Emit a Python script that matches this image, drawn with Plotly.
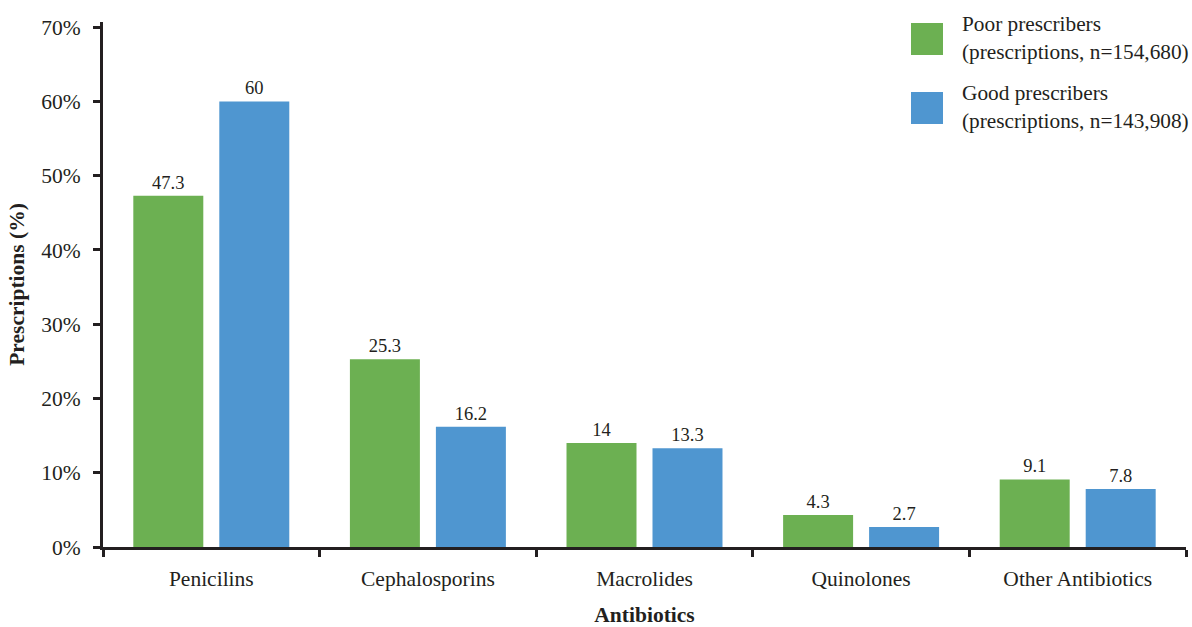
import plotly.graph_objects as go

categories = ["Penicilins", "Cephalosporins", "Macrolides", "Quinolones", "Other Antibiotics"]
poor_values = [47.3, 25.3, 14, 4.3, 9.1]
good_values = [60, 16.2, 13.3, 2.7, 7.8]
poor_labels = ["47.3", "25.3", "14", "4.3", "9.1"]
good_labels = ["60", "16.2", "13.3", "2.7", "7.8"]
series_names = ["Poor prescribers<br>(prescriptions, n=154,680)",
                "Good prescribers<br>(prescriptions, n=143,908)"]
y_ticks = [0, 10, 20, 30, 40, 50, 60, 70]
y_tick_text = ["0%", "10%", "20%", "30%", "40%", "50%", "60%", "70%"]

GREEN = "#6CB052"
BLUE = "#4F96D0"
INK = "#231F20"
FONT = "Liberation Serif"
TICK_SIZE = 21.5

fig = go.Figure()
fig.add_trace(go.Bar(x=categories, y=poor_values, name=series_names[0],
                     marker=dict(color=GREEN, line=dict(width=0)),
                     text=poor_labels, textposition="outside",
                     textfont=dict(family=FONT, size=18.5, color=INK), cliponaxis=False))
fig.add_trace(go.Bar(x=categories, y=good_values, name=series_names[1],
                     marker=dict(color=BLUE, line=dict(width=0)),
                     text=good_labels, textposition="outside",
                     textfont=dict(family=FONT, size=18.5, color=INK), cliponaxis=False))

fig.update_layout(
    width=1192, height=627,
    margin=dict(l=103, r=6, t=22, b=80),
    paper_bgcolor="white", plot_bgcolor="white",
    barmode="group", bargap=0.206, bargroupgap=0.186,
    showlegend=False,
    font=dict(family=FONT, size=TICK_SIZE, color=INK),
)
fig.update_xaxes(
    automargin=False,
    showline=True, linecolor=INK, linewidth=3,
    ticks="outside", tickson="boundaries", ticklen=7, tickwidth=3, tickcolor=INK,
    tickfont=dict(family=FONT, size=TICK_SIZE, color=INK), ticklabelstandoff=10,
    title=dict(text="<b>Antibiotics</b>", font=dict(family=FONT, size=TICK_SIZE, color=INK), standoff=22),
    showgrid=False, zeroline=False,
)
fig.update_yaxes(
    automargin=False,
    range=[0, 70.7], tickvals=y_ticks, ticktext=y_tick_text,
    showline=True, linecolor=INK, linewidth=3,
    ticks="outside", ticklen=7, tickwidth=3, tickcolor=INK,
    tickfont=dict(family=FONT, size=TICK_SIZE, color=INK), ticklabelstandoff=8,
    title=dict(text="<b>Prescriptions (%)</b>", font=dict(family=FONT, size=TICK_SIZE, color=INK), standoff=11),
    showgrid=False, zeroline=False,
)

# Manual legend (large square swatches), positions expressed relative to the plot area
legend_colors = [GREEN, BLUE]
legend_tops = [23, 92]
for name, col, top in zip(series_names, legend_colors, legend_tops):
    fig.add_shape(type="rect", xref="paper", yref="paper",
                  x0=(911 - 103) / 1083, x1=(943 - 103) / 1083,
                  y0=(547 - (top + 32)) / 525, y1=(547 - top) / 525,
                  fillcolor=col, line=dict(width=0))
    fig.add_annotation(xref="paper", yref="paper",
                       x=(960 - 103) / 1083, y=(547 - (top + 15)) / 525,
                       xanchor="left", yanchor="middle", align="left",
                       text=name, showarrow=False,
                       font=dict(family=FONT, size=21.3, color=INK))

fig.write_html("out.html", config={"displayModeBar": False},
               post_script="document.body.style.margin='0';document.body.style.overflow='hidden';")
